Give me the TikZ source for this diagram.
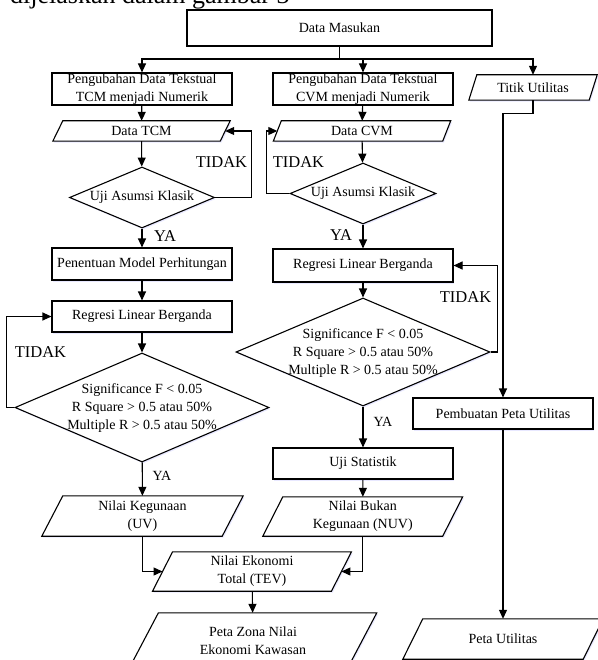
\documentclass[tikz,border=0pt]{standalone}
\usepackage{fontspec}
\setmainfont{Liberation Serif}
\usetikzlibrary{arrows.meta,calc,shapes.geometric,shadows,backgrounds}
\newcommand\ftxt{\fontsize{14}{18}\selectfont}
\newcommand\flab{\fontsize{16.5}{20}\selectfont}
\newcommand\paraoutline[2]{%
  \draw[pshape] ($(#1.north west)+(#2,0)$) -- ($(#1.north east)+(#2,0)$) --
    ($(#1.south east)-(#2,0)$) -- ($(#1.south west)-(#2,0)$) -- cycle;}
\tikzset{
  ln/.style={line width=1.1pt},
  arr/.style={ln, -{Triangle[length=9pt,width=8pt]}},
  glow/.style={drop shadow={shadow xshift=1.2pt, shadow yshift=-1.5pt, fill=blue!35, opacity=0.25}},
  box/.style={draw, ln, fill=white, glow, minimum width=180pt, minimum height=32pt, inner sep=0pt, font=\ftxt, align=center},
  ptext/.style={inner sep=0pt, font=\ftxt, align=center},
  pshape/.style={draw, ln, fill=white, glow, line join=miter},
  dshape/.style={diamond, draw, ln, fill=white, glow, inner sep=0pt},
  dtext/.style={inner sep=0pt, font=\ftxt, align=center},
  lab/.style={inner sep=0pt, font=\flab},
  labs/.style={inner sep=0pt, font=\ftxt},
}
\begin{document}
\begin{tikzpicture}[x=1pt,y=-1pt]
\useasboundingbox (0,0) rectangle (597,660);
\clip (0,0) rectangle (597,660);

% partial caption at top
\node[anchor=base west, inner sep=0pt, font=\fontsize{26}{30}\selectfont] (cap) at (10,4) {dijelaskan dalam gambar 3};

% ---------- top
\node[box, minimum width=305pt, minimum height=36pt] (dm) at (339.5,28) {Data Masukan};
\node[box] (p1) at (142,89) {Pengubahan Data Tekstual\\TCM menjadi Numerik};
\node[box] (p2) at (363,89) {Pengubahan Data Tekstual\\CVM menjadi Numerik};
\node[ptext, minimum width=120pt, minimum height=25pt] (tu) at (533,87.5) {Titik Utilitas};

% ---------- left column
\node[ptext, minimum width=167pt, minimum height=20pt] (tcm) at (141.5,131) {Data TCM};
\node[dshape, minimum width=145pt, minimum height=61pt] (d1) at (142,197.5) {};
\node[dtext] (d1t) at (d1.center) {Uji Asumsi Klasik};
\node[box] (pm) at (142,264) {Penentuan Model Perhitungan};
\node[box, minimum height=31pt] (r1) at (142,316.5) {Regresi Linear Berganda};
\node[dshape, minimum width=254pt, minimum height=109pt] (d2) at (142,407.5) {};
\node[dtext] (d2t) at (142,408) {Significance F < 0.05\\R Square > 0.5 atau 50\%\\Multiple R > 0.5 atau 50\%};
\node[ptext, minimum width=180pt, minimum height=40pt] (uv) at (142.5,516) {Nilai Kegunaan\\(UV)};
\node[ptext, minimum width=178.5pt, minimum height=39pt] (tev) at (252,571.5) {Nilai Ekonomi\\Total (TEV)};
\node[ptext, minimum width=218pt, minimum height=55pt] (pz) at (253,640.5) {Peta Zona Nilai\\Ekonomi Kawasan};

% ---------- middle column
\node[ptext, minimum width=169pt, minimum height=20pt] (cvm) at (362,131) {Data CVM};
\node[dshape, minimum width=146pt, minimum height=61pt] (d3) at (363,193.5) {};
\node[dtext] (d3t) at (d3.center) {Uji Asumsi Klasik};
\node[box, minimum height=33pt] (r2) at (363,265.5) {Regresi Linear Berganda};
\node[dshape, minimum width=254pt, minimum height=108pt] (d4) at (363,352) {};
\node[dtext] (d4t) at (363,353) {Significance F < 0.05\\R Square > 0.5 atau 50\%\\Multiple R > 0.5 atau 50\%};
\node[box, minimum height=31pt] (us) at (363,463.5) {Uji Statistik};
\node[ptext, minimum width=179.5pt, minimum height=39pt] (nuv) at (362.75,516.5) {Nilai Bukan\\Kegunaan (NUV)};

% ---------- right column
\node[box, minimum height=31pt] (pu) at (503,413.5) {Pembuatan Peta Utilitas};
\node[ptext, minimum width=180pt, minimum height=40pt] (put) at (503,639) {Peta Utilitas};

% background and parallelogram outlines
\begin{scope}[on background layer]
\fill[white] (0,0) rectangle (597,660);
\paraoutline{tu}{4}
\paraoutline{tcm}{5}
\paraoutline{cvm}{4}
\paraoutline{uv}{10.5}
\paraoutline{tev}{10}
\paraoutline{pz}{14.6}
\paraoutline{nuv}{10}
\paraoutline{put}{10}
\end{scope}

% ---------- connectors
\coordinate (j) at (339.5,59);
\draw[ln] (dm.south) -- (j);
\draw[arr] (j) -| (p1.north);
\draw[arr] (j) -| (p2.north);
\draw[arr] (j) -| (tu.north);

\draw[arr] (p1) -- (tcm);
\draw[arr] (tcm) -- (d1);
\draw[arr] (d1.east) -- ++(36.5,0) |- (tcm.east);
\draw[arr] (d1) -- (pm);
\draw[arr] (pm) -- (r1);
\draw[arr] (r1) -- (d2);
\draw[arr] (d2.west) -- ++(-8,0) |- (r1.west);
\draw[arr] (d2) -- (uv);
\draw[arr] (uv.south) |- (tev.west);
\draw[arr] (tev) -- (pz);

\draw[arr] (p2) -- (cvm);
\draw[arr] (cvm) -- (d3);
\draw[arr] (d3.west) -- ++(-23,0) |- (cvm.west);
\draw[arr] (d3) -- (r2);
\draw[arr] (r2) -- (d4);
\draw[arr] (d4.east) -- ++(7,0) |- (r2.east);
\draw[arr] (d4) -- (us);
\draw[arr] (us) -- (nuv);
\draw[arr] (nuv.south) |- (tev.east);

\draw[arr] (tu.south) -- ++(0,13) -| (pu.north);
\draw[arr] (pu) -- (put);

% ---------- labels
\node[lab] (l1) at (221.5,162) {TIDAK};
\node[lab] (l2) at (165,236) {YA};
\node[lab] (l3) at (40.5,352) {TIDAK};
\node[labs] (l4) at (162,476) {YA};
\node[lab] (l5) at (298.5,162) {TIDAK};
\node[lab] (l6) at (341,235) {YA};
\node[lab] (l7) at (465.5,297) {TIDAK};
\node[labs] (l8) at (383,422) {YA};
\end{tikzpicture}
\end{document}
